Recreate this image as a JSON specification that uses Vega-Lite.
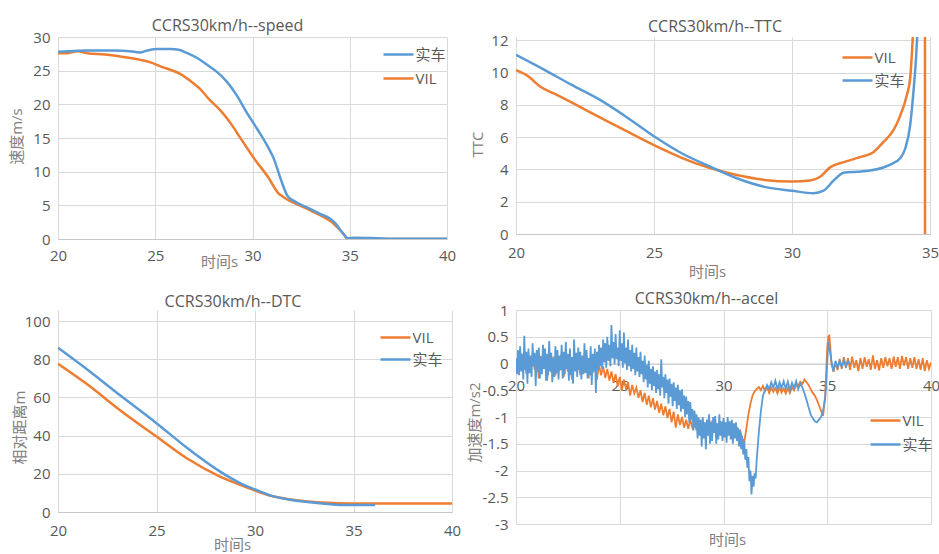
{
 "$schema": "https://vega.github.io/schema/vega-lite/v6.json",
 "padding": {"left": 9, "top": 18, "right": 0, "bottom": 0},
 "background": "white",
 "config": {
  "font": "Open Sans, Noto Sans CJK SC",
  "view": {"stroke": null},
  "axis": {"gridColor": "#d9d9d9", "domainColor": "#c8c8c8", "ticks": false, "labelColor": "#595959", "labelFontSize": 15, "titleColor": "#808080", "titleFontSize": 15, "titleFontWeight": "normal", "labelFlush": false, "labelOverlap": false, "titleBaseline": "middle", "labelExpr": "replace(datum.label, '\u2212', '-')"},
  "axisY": {"domain": false, "labelPadding": 8},
  "title": {"fontSize": 16, "fontWeight": "normal", "color": "#595959", "anchor": "middle", "frame": "group"},
  "legend": {"orient": "none", "title": null, "symbolType": "M-2,0H2", "symbolSize": 225, "symbolStrokeWidth": 2.5, "labelFontSize": 15, "labelColor": "#595959", "labelOffset": 8, "padding": 0}
 },
 "datasets": {
  "speed": [
   {"s":"VIL","t":20,"v":27.6},{"s":"VIL","t":20.5,"v":27.6},{"s":"VIL","t":21.0,"v":27.9},{"s":"VIL","t":21.5,"v":27.6},{"s":"VIL","t":22.4,"v":27.4},{"s":"VIL","t":23.2,"v":27.1},{"s":"VIL","t":24.25,"v":26.6},{"s":"VIL","t":24.8,"v":26.2},{"s":"VIL","t":25.3,"v":25.6},{"s":"VIL","t":25.8,"v":25.1},{"s":"VIL","t":26.3,"v":24.5},{"s":"VIL","t":26.8,"v":23.5},{"s":"VIL","t":27.3,"v":22.3},{"s":"VIL","t":27.85,"v":20.5},{"s":"VIL","t":28.35,"v":19.1},{"s":"VIL","t":28.9,"v":17.1},{"s":"VIL","t":29.4,"v":14.9},{"s":"VIL","t":30.1,"v":11.9},{"s":"VIL","t":30.8,"v":9.2},{"s":"VIL","t":31.3,"v":6.9},{"s":"VIL","t":31.6,"v":6.2},{"s":"VIL","t":32.1,"v":5.4},{"s":"VIL","t":32.8,"v":4.5},{"s":"VIL","t":33.5,"v":3.5},{"s":"VIL","t":34.2,"v":2.2},{"s":"VIL","t":34.7,"v":0.7},{"s":"VIL","t":34.9,"v":0},{"s":"VIL","t":40,"v":0},
   {"s":"实车","t":20,"v":27.8},{"s":"实车","t":20.5,"v":27.9},{"s":"实车","t":21.5,"v":28.0},{"s":"实车","t":22.9,"v":28.0},{"s":"实车","t":23.7,"v":27.9},{"s":"实车","t":24.2,"v":27.7},{"s":"实车","t":24.6,"v":28.0},{"s":"实车","t":25.1,"v":28.2},{"s":"实车","t":25.8,"v":28.2},{"s":"实车","t":26.2,"v":28.1},{"s":"实车","t":26.65,"v":27.6},{"s":"实车","t":27.2,"v":26.8},{"s":"实车","t":27.7,"v":25.8},{"s":"实车","t":28.2,"v":24.75},{"s":"实车","t":28.7,"v":23.3},{"s":"实车","t":29.2,"v":21.3},{"s":"实车","t":29.7,"v":18.8},{"s":"实车","t":30.25,"v":16.3},{"s":"实车","t":30.75,"v":13.9},{"s":"实车","t":31.1,"v":11.9},{"s":"实车","t":31.45,"v":8.9},{"s":"实车","t":31.8,"v":6.4},{"s":"实车","t":32.1,"v":5.7},{"s":"实车","t":32.8,"v":4.7},{"s":"实车","t":33.5,"v":3.7},{"s":"实车","t":34.0,"v":3.0},{"s":"实车","t":34.3,"v":2.2},{"s":"实车","t":34.6,"v":1.0},{"s":"实车","t":34.9,"v":0.1},{"s":"实车","t":35.2,"v":0.2},{"s":"实车","t":36.1,"v":0.15},{"s":"实车","t":36.9,"v":0.05},{"s":"实车","t":40,"v":0.05}
  ],
  "ttc": [
   {"s":"VIL","t":20,"v":10.14},{"s":"VIL","t":20.42,"v":9.79},{"s":"VIL","t":20.9,"v":9.1},{"s":"VIL","t":21.39,"v":8.69},{"s":"VIL","t":22.1,"v":8.07},{"s":"VIL","t":22.95,"v":7.3},{"s":"VIL","t":23.8,"v":6.55},{"s":"VIL","t":25,"v":5.5},{"s":"VIL","t":26,"v":4.72},{"s":"VIL","t":27,"v":4.1},{"s":"VIL","t":28,"v":3.65},{"s":"VIL","t":29,"v":3.35},{"s":"VIL","t":30,"v":3.25},{"s":"VIL","t":30.66,"v":3.32},{"s":"VIL","t":31.02,"v":3.55},{"s":"VIL","t":31.39,"v":4.14},{"s":"VIL","t":31.87,"v":4.45},{"s":"VIL","t":32.47,"v":4.76},{"s":"VIL","t":32.95,"v":5.07},{"s":"VIL","t":33.31,"v":5.69},{"s":"VIL","t":33.67,"v":6.41},{"s":"VIL","t":33.9,"v":7.24},{"s":"VIL","t":34.16,"v":8.59},{"s":"VIL","t":34.28,"v":9.62},{"s":"VIL","t":34.37,"v":12},{"s":"VIL","t":34.45,"v":15},{"s":"VIL","t":34.81,"v":40},{"s":"VIL","t":34.82,"v":0},
   {"s":"实车","t":20,"v":11.1},{"s":"实车","t":21,"v":10.2},{"s":"实车","t":22,"v":9.25},{"s":"实车","t":23,"v":8.35},{"s":"实车","t":24,"v":7.25},{"s":"实车","t":25,"v":6.05},{"s":"实车","t":26,"v":5.0},{"s":"实车","t":27,"v":4.2},{"s":"实车","t":28,"v":3.45},{"s":"实车","t":29,"v":2.92},{"s":"实车","t":30,"v":2.68},{"s":"实车","t":30.78,"v":2.53},{"s":"实车","t":31.14,"v":2.68},{"s":"实车","t":31.5,"v":3.3},{"s":"实车","t":31.87,"v":3.8},{"s":"实车","t":32.35,"v":3.86},{"s":"实车","t":32.83,"v":3.93},{"s":"实车","t":33.31,"v":4.12},{"s":"实车","t":33.67,"v":4.39},{"s":"实车","t":33.9,"v":4.66},{"s":"实车","t":34.1,"v":5.28},{"s":"实车","t":34.28,"v":6.72},{"s":"实车","t":34.4,"v":8.8},{"s":"实车","t":34.5,"v":11.07},{"s":"实车","t":34.56,"v":13}
  ],
  "dtc": [
   {"s":"VIL","t":20,"v":77.6},{"s":"VIL","t":21.5,"v":66.7},{"s":"VIL","t":23.2,"v":52.9},{"s":"VIL","t":25,"v":39.5},{"s":"VIL","t":26.56,"v":28},{"s":"VIL","t":28.25,"v":18.4},{"s":"VIL","t":29.27,"v":14.1},{"s":"VIL","t":30,"v":11.2},{"s":"VIL","t":30.8,"v":8.5},{"s":"VIL","t":31.64,"v":6.8},{"s":"VIL","t":32.66,"v":5.5},{"s":"VIL","t":33.68,"v":4.8},{"s":"VIL","t":34.7,"v":4.5},{"s":"VIL","t":40,"v":4.5},
   {"s":"实车","t":20,"v":86},{"s":"实车","t":21.5,"v":74.5},{"s":"实车","t":23.2,"v":60.7},{"s":"实车","t":25,"v":46.5},{"s":"实车","t":26.56,"v":33.5},{"s":"实车","t":28.25,"v":21.0},{"s":"实车","t":29.27,"v":15.0},{"s":"实车","t":30,"v":11.8},{"s":"实车","t":30.8,"v":8.6},{"s":"实车","t":31.64,"v":6.7},{"s":"实车","t":32.66,"v":5.2},{"s":"实车","t":33.68,"v":4.2},{"s":"实车","t":34.7,"v":3.6},{"s":"实车","t":36.1,"v":3.6}
  ],
  "accel": [
   {"s":"VIL","t":20.0,"v":0.05},{"s":"VIL","t":20.1,"v":-0.18},{"s":"VIL","t":20.2,"v":0.22},{"s":"VIL","t":20.3,"v":-0.12},{"s":"VIL","t":20.4,"v":0.15},{"s":"VIL","t":20.5,"v":-0.2},{"s":"VIL","t":20.6,"v":0.1},{"s":"VIL","t":20.7,"v":-0.15},{"s":"VIL","t":20.8,"v":0.18},{"s":"VIL","t":20.9,"v":-0.12},
   {"s":"VIL","t":21.0,"v":0.12},{"s":"VIL","t":21.1,"v":-0.28},{"s":"VIL","t":21.2,"v":0.14},{"s":"VIL","t":21.3,"v":-0.1},{"s":"VIL","t":21.4,"v":0.16},{"s":"VIL","t":21.5,"v":-0.32},{"s":"VIL","t":21.6,"v":0.1},{"s":"VIL","t":21.7,"v":-0.16},{"s":"VIL","t":21.8,"v":0.13},{"s":"VIL","t":21.9,"v":-0.22},
   {"s":"VIL","t":22.0,"v":0.1},{"s":"VIL","t":22.1,"v":-0.14},{"s":"VIL","t":22.2,"v":0.18},{"s":"VIL","t":22.3,"v":-0.25},{"s":"VIL","t":22.4,"v":0.12},{"s":"VIL","t":22.5,"v":-0.15},{"s":"VIL","t":22.6,"v":0.1},{"s":"VIL","t":22.7,"v":-0.3},{"s":"VIL","t":22.8,"v":0.15},{"s":"VIL","t":22.9,"v":-0.12},
   {"s":"VIL","t":23.0,"v":0.12},{"s":"VIL","t":23.1,"v":-0.22},{"s":"VIL","t":23.2,"v":0.1},{"s":"VIL","t":23.3,"v":-0.16},{"s":"VIL","t":23.4,"v":0.14},{"s":"VIL","t":23.5,"v":-0.28},{"s":"VIL","t":23.6,"v":0.08},{"s":"VIL","t":23.7,"v":-0.18},{"s":"VIL","t":23.8,"v":0.1},{"s":"VIL","t":23.9,"v":-0.3},
   {"s":"VIL","t":24.0,"v":-0.02},{"s":"VIL","t":24.1,"v":-0.22},{"s":"VIL","t":24.2,"v":-0.05},{"s":"VIL","t":24.3,"v":-0.27},{"s":"VIL","t":24.4,"v":-0.1},{"s":"VIL","t":24.5,"v":-0.32},{"s":"VIL","t":24.6,"v":-0.15},{"s":"VIL","t":24.7,"v":-0.36},{"s":"VIL","t":24.8,"v":-0.2},{"s":"VIL","t":24.9,"v":-0.42},
   {"s":"VIL","t":25.0,"v":-0.25},{"s":"VIL","t":25.1,"v":-0.5},{"s":"VIL","t":25.2,"v":-0.3},{"s":"VIL","t":25.3,"v":-0.47},{"s":"VIL","t":25.4,"v":-0.35},{"s":"VIL","t":25.5,"v":-0.6},{"s":"VIL","t":25.6,"v":-0.4},{"s":"VIL","t":25.7,"v":-0.56},{"s":"VIL","t":25.8,"v":-0.45},{"s":"VIL","t":25.9,"v":-0.64},
   {"s":"VIL","t":26.0,"v":-0.5},{"s":"VIL","t":26.1,"v":-0.72},{"s":"VIL","t":26.2,"v":-0.55},{"s":"VIL","t":26.3,"v":-0.77},{"s":"VIL","t":26.4,"v":-0.6},{"s":"VIL","t":26.5,"v":-0.82},{"s":"VIL","t":26.6,"v":-0.65},{"s":"VIL","t":26.7,"v":-0.86},{"s":"VIL","t":26.8,"v":-0.7},{"s":"VIL","t":26.9,"v":-0.92},
   {"s":"VIL","t":27.0,"v":-0.75},{"s":"VIL","t":27.1,"v":-0.97},{"s":"VIL","t":27.2,"v":-0.8},{"s":"VIL","t":27.3,"v":-1.02},{"s":"VIL","t":27.4,"v":-0.85},{"s":"VIL","t":27.5,"v":-1.1},{"s":"VIL","t":27.6,"v":-0.9},{"s":"VIL","t":27.7,"v":-1.2},{"s":"VIL","t":27.8,"v":-0.95},{"s":"VIL","t":27.9,"v":-1.15},
   {"s":"VIL","t":28.0,"v":-1.0},{"s":"VIL","t":28.1,"v":-1.2},{"s":"VIL","t":28.2,"v":-1.05},{"s":"VIL","t":28.3,"v":-1.22},{"s":"VIL","t":28.4,"v":-1.05},{"s":"VIL","t":28.5,"v":-1.2},{"s":"VIL","t":28.6,"v":-1.08},{"s":"VIL","t":28.7,"v":-1.25},{"s":"VIL","t":28.8,"v":-1.1},{"s":"VIL","t":28.9,"v":-1.22},
   {"s":"VIL","t":29.0,"v":-1.08},{"s":"VIL","t":29.1,"v":-1.24},{"s":"VIL","t":29.2,"v":-1.1},{"s":"VIL","t":29.3,"v":-1.25},{"s":"VIL","t":29.4,"v":-1.1},{"s":"VIL","t":29.5,"v":-1.22},{"s":"VIL","t":29.6,"v":-1.08},{"s":"VIL","t":29.7,"v":-1.25},{"s":"VIL","t":29.8,"v":-1.12},{"s":"VIL","t":29.9,"v":-1.22},
   {"s":"VIL","t":30.0,"v":-1.1},{"s":"VIL","t":30.1,"v":-1.25},{"s":"VIL","t":30.2,"v":-1.12},{"s":"VIL","t":30.3,"v":-1.22},{"s":"VIL","t":30.4,"v":-1.1},{"s":"VIL","t":30.5,"v":-1.24},{"s":"VIL","t":30.6,"v":-1.15},{"s":"VIL","t":30.7,"v":-1.28},{"s":"VIL","t":30.8,"v":-1.25},{"s":"VIL","t":30.9,"v":-1.4},
   {"s":"VIL","t":31.0,"v":-1.47},{"s":"VIL","t":31.1,"v":-1.22},{"s":"VIL","t":31.2,"v":-0.95},{"s":"VIL","t":31.3,"v":-0.75},{"s":"VIL","t":31.4,"v":-0.6},{"s":"VIL","t":31.5,"v":-0.52},{"s":"VIL","t":31.6,"v":-0.48},{"s":"VIL","t":31.7,"v":-0.44},{"s":"VIL","t":31.8,"v":-0.5},{"s":"VIL","t":31.9,"v":-0.42},
   {"s":"VIL","t":32.0,"v":-0.52},{"s":"VIL","t":32.1,"v":-0.44},{"s":"VIL","t":32.2,"v":-0.55},{"s":"VIL","t":32.3,"v":-0.45},{"s":"VIL","t":32.4,"v":-0.53},{"s":"VIL","t":32.5,"v":-0.46},{"s":"VIL","t":32.6,"v":-0.56},{"s":"VIL","t":32.7,"v":-0.45},{"s":"VIL","t":32.8,"v":-0.54},{"s":"VIL","t":32.9,"v":-0.47},
   {"s":"VIL","t":33.0,"v":-0.56},{"s":"VIL","t":33.1,"v":-0.46},{"s":"VIL","t":33.2,"v":-0.55},{"s":"VIL","t":33.3,"v":-0.44},{"s":"VIL","t":33.4,"v":-0.5},{"s":"VIL","t":33.5,"v":-0.4},{"s":"VIL","t":33.6,"v":-0.42},{"s":"VIL","t":33.7,"v":-0.34},{"s":"VIL","t":33.8,"v":-0.38},{"s":"VIL","t":33.9,"v":-0.3},
   {"s":"VIL","t":34.0,"v":-0.35},{"s":"VIL","t":34.1,"v":-0.4},{"s":"VIL","t":34.2,"v":-0.48},{"s":"VIL","t":34.3,"v":-0.55},{"s":"VIL","t":34.4,"v":-0.6},{"s":"VIL","t":34.5,"v":-0.68},{"s":"VIL","t":34.6,"v":-0.78},{"s":"VIL","t":34.7,"v":-0.88},{"s":"VIL","t":34.8,"v":-0.98},{"s":"VIL","t":34.9,"v":-0.6},
   {"s":"VIL","t":35.0,"v":0.3},{"s":"VIL","t":35.05,"v":0.5},{"s":"VIL","t":35.1,"v":0.52},{"s":"VIL","t":35.15,"v":0.3},{"s":"VIL","t":35.2,"v":0.0},{"s":"VIL","t":35.3,"v":-0.15},{"s":"VIL","t":35.4,"v":0.02},{"s":"VIL","t":35.5,"v":-0.12},{"s":"VIL","t":35.6,"v":0.08},{"s":"VIL","t":35.7,"v":-0.1},
   {"s":"VIL","t":35.8,"v":0.12},{"s":"VIL","t":35.9,"v":-0.08},{"s":"VIL","t":36.0,"v":0.1},{"s":"VIL","t":36.1,"v":-0.12},{"s":"VIL","t":36.2,"v":0.13},{"s":"VIL","t":36.3,"v":-0.08},{"s":"VIL","t":36.4,"v":0.06},{"s":"VIL","t":36.5,"v":-0.14},{"s":"VIL","t":36.6,"v":0.1},{"s":"VIL","t":36.7,"v":-0.1},
   {"s":"VIL","t":36.8,"v":0.12},{"s":"VIL","t":36.9,"v":-0.06},{"s":"VIL","t":37.0,"v":0.08},{"s":"VIL","t":37.1,"v":-0.12},{"s":"VIL","t":37.2,"v":0.15},{"s":"VIL","t":37.3,"v":-0.1},{"s":"VIL","t":37.4,"v":0.06},{"s":"VIL","t":37.5,"v":-0.13},{"s":"VIL","t":37.6,"v":0.1},{"s":"VIL","t":37.7,"v":-0.08},
   {"s":"VIL","t":37.8,"v":0.12},{"s":"VIL","t":37.9,"v":-0.05},{"s":"VIL","t":38.0,"v":0.1},{"s":"VIL","t":38.1,"v":-0.1},{"s":"VIL","t":38.2,"v":0.13},{"s":"VIL","t":38.3,"v":-0.06},{"s":"VIL","t":38.4,"v":0.12},{"s":"VIL","t":38.5,"v":-0.1},{"s":"VIL","t":38.6,"v":0.14},{"s":"VIL","t":38.7,"v":-0.04},
   {"s":"VIL","t":38.8,"v":0.12},{"s":"VIL","t":38.9,"v":-0.1},{"s":"VIL","t":39.0,"v":0.1},{"s":"VIL","t":39.1,"v":-0.08},{"s":"VIL","t":39.2,"v":0.12},{"s":"VIL","t":39.3,"v":-0.1},{"s":"VIL","t":39.4,"v":0.08},{"s":"VIL","t":39.5,"v":-0.12},{"s":"VIL","t":39.6,"v":0.1},{"s":"VIL","t":39.7,"v":-0.14},
   {"s":"VIL","t":39.8,"v":0.06},{"s":"VIL","t":39.9,"v":-0.1},{"s":"VIL","t":40.0,"v":0.02},
   {"s":"实车","t":20.00,"v":0.10},{"s":"实车","t":20.05,"v":-0.20},{"s":"实车","t":20.10,"v":0.25},{"s":"实车","t":20.15,"v":-0.22},{"s":"实车","t":20.20,"v":0.32},{"s":"实车","t":20.25,"v":-0.15},{"s":"实车","t":20.30,"v":0.18},{"s":"实车","t":20.35,"v":-0.30},{"s":"实车","t":20.40,"v":0.52},{"s":"实车","t":20.45,"v":-0.12},
   {"s":"实车","t":20.50,"v":0.22},{"s":"实车","t":20.55,"v":-0.38},{"s":"实车","t":20.60,"v":0.28},{"s":"实车","t":20.65,"v":-0.18},{"s":"实车","t":20.70,"v":0.15},{"s":"实车","t":20.75,"v":-0.25},{"s":"实车","t":20.80,"v":0.38},{"s":"实车","t":20.85,"v":-0.05},{"s":"实车","t":20.90,"v":0.20},{"s":"实车","t":20.95,"v":-0.42},
   {"s":"实车","t":21.00,"v":0.25},{"s":"实车","t":21.05,"v":-0.15},{"s":"实车","t":21.10,"v":0.30},{"s":"实车","t":21.15,"v":-0.28},{"s":"实车","t":21.20,"v":0.12},{"s":"实车","t":21.25,"v":-0.20},{"s":"实车","t":21.30,"v":0.35},{"s":"实车","t":21.35,"v":-0.10},{"s":"实车","t":21.40,"v":0.28},{"s":"实车","t":21.45,"v":-0.32},
   {"s":"实车","t":21.50,"v":0.18},{"s":"实车","t":21.55,"v":-0.22},{"s":"实车","t":21.60,"v":0.42},{"s":"实车","t":21.65,"v":-0.15},{"s":"实车","t":21.70,"v":0.20},{"s":"实车","t":21.75,"v":-0.35},{"s":"实车","t":21.80,"v":0.10},{"s":"实车","t":21.85,"v":-0.25},{"s":"实车","t":21.90,"v":0.32},{"s":"实车","t":21.95,"v":-0.18},
   {"s":"实车","t":22.00,"v":0.25},{"s":"实车","t":22.05,"v":-0.30},{"s":"实车","t":22.10,"v":0.15},{"s":"实车","t":22.15,"v":-0.12},{"s":"实车","t":22.20,"v":0.35},{"s":"实车","t":22.25,"v":-0.28},{"s":"实车","t":22.30,"v":0.22},{"s":"实车","t":22.35,"v":-0.20},{"s":"实车","t":22.40,"v":0.40},{"s":"实车","t":22.45,"v":-0.10},
   {"s":"实车","t":22.50,"v":0.18},{"s":"实车","t":22.55,"v":-0.32},{"s":"实车","t":22.60,"v":0.28},{"s":"实车","t":22.65,"v":-0.22},{"s":"实车","t":22.70,"v":0.12},{"s":"实车","t":22.75,"v":-0.38},{"s":"实车","t":22.80,"v":0.45},{"s":"实车","t":22.85,"v":-0.15},{"s":"实车","t":22.90,"v":0.20},{"s":"实车","t":22.95,"v":-0.25},
   {"s":"实车","t":23.00,"v":0.30},{"s":"实车","t":23.05,"v":-0.12},{"s":"实车","t":23.10,"v":0.22},{"s":"实车","t":23.15,"v":-0.30},{"s":"实车","t":23.20,"v":0.15},{"s":"实车","t":23.25,"v":-0.20},{"s":"实车","t":23.30,"v":0.38},{"s":"实车","t":23.35,"v":-0.18},{"s":"实车","t":23.40,"v":0.25},{"s":"实车","t":23.45,"v":-0.28},
   {"s":"实车","t":23.50,"v":0.10},{"s":"实车","t":23.55,"v":-0.22},{"s":"实车","t":23.60,"v":0.32},{"s":"实车","t":23.65,"v":-0.40},{"s":"实车","t":23.70,"v":0.18},{"s":"实车","t":23.75,"v":-0.15},{"s":"实车","t":23.80,"v":0.28},{"s":"实车","t":23.85,"v":-0.55},{"s":"实车","t":23.90,"v":0.22},{"s":"实车","t":23.95,"v":-0.12},
   {"s":"实车","t":24.00,"v":0.35},{"s":"实车","t":24.05,"v":-0.05},{"s":"实车","t":24.10,"v":0.30},{"s":"实车","t":24.15,"v":-0.10},{"s":"实车","t":24.20,"v":0.45},{"s":"实车","t":24.25,"v":0.02},{"s":"实车","t":24.30,"v":0.38},{"s":"实车","t":24.35,"v":-0.08},{"s":"实车","t":24.40,"v":0.50},{"s":"实车","t":24.45,"v":0.05},
   {"s":"实车","t":24.50,"v":0.35},{"s":"实车","t":24.55,"v":-0.05},{"s":"实车","t":24.60,"v":0.72},{"s":"实车","t":24.65,"v":0.10},{"s":"实车","t":24.70,"v":0.40},{"s":"实车","t":24.75,"v":-0.02},{"s":"实车","t":24.80,"v":0.55},{"s":"实车","t":24.85,"v":0.08},{"s":"实车","t":24.90,"v":0.30},{"s":"实车","t":24.95,"v":-0.05},
   {"s":"实车","t":25.00,"v":0.62},{"s":"实车","t":25.05,"v":0.05},{"s":"实车","t":25.10,"v":0.38},{"s":"实车","t":25.15,"v":-0.08},{"s":"实车","t":25.20,"v":0.58},{"s":"实车","t":25.25,"v":0.00},{"s":"实车","t":25.30,"v":0.30},{"s":"实车","t":25.35,"v":-0.12},{"s":"实车","t":25.40,"v":0.45},{"s":"实车","t":25.45,"v":-0.05},
   {"s":"实车","t":25.50,"v":0.25},{"s":"实车","t":25.55,"v":-0.15},{"s":"实车","t":25.60,"v":0.35},{"s":"实车","t":25.65,"v":-0.10},{"s":"实车","t":25.70,"v":0.20},{"s":"实车","t":25.75,"v":-0.22},{"s":"实车","t":25.80,"v":0.30},{"s":"实车","t":25.85,"v":-0.15},{"s":"实车","t":25.90,"v":0.12},{"s":"实车","t":25.95,"v":-0.25},
   {"s":"实车","t":26.00,"v":0.22},{"s":"实车","t":26.05,"v":-0.20},{"s":"实车","t":26.10,"v":0.05},{"s":"实车","t":26.15,"v":-0.35},{"s":"实车","t":26.20,"v":0.15},{"s":"实车","t":26.25,"v":-0.30},{"s":"实车","t":26.30,"v":-0.02},{"s":"实车","t":26.35,"v":-0.45},{"s":"实车","t":26.40,"v":0.05},{"s":"实车","t":26.45,"v":-0.38},
   {"s":"实车","t":26.50,"v":-0.10},{"s":"实车","t":26.55,"v":-0.50},{"s":"实车","t":26.60,"v":-0.05},{"s":"实车","t":26.65,"v":-0.42},{"s":"实车","t":26.70,"v":-0.15},{"s":"实车","t":26.75,"v":-0.55},{"s":"实车","t":26.80,"v":-0.12},{"s":"实车","t":26.85,"v":-0.48},{"s":"实车","t":26.90,"v":-0.20},{"s":"实车","t":26.95,"v":-0.60},
   {"s":"实车","t":27.00,"v":0.08},{"s":"实车","t":27.05,"v":-0.45},{"s":"实车","t":27.10,"v":-0.25},{"s":"实车","t":27.15,"v":-0.65},{"s":"实车","t":27.20,"v":-0.20},{"s":"实车","t":27.25,"v":-0.55},{"s":"实车","t":27.30,"v":-0.30},{"s":"实车","t":27.35,"v":-0.75},{"s":"实车","t":27.40,"v":-0.28},{"s":"实车","t":27.45,"v":-0.62},
   {"s":"实车","t":27.50,"v":-0.38},{"s":"实车","t":27.55,"v":-0.80},{"s":"实车","t":27.60,"v":-0.35},{"s":"实车","t":27.65,"v":-0.70},{"s":"实车","t":27.70,"v":-0.45},{"s":"实车","t":27.75,"v":-0.85},{"s":"实车","t":27.80,"v":-0.40},{"s":"实车","t":27.85,"v":-0.78},{"s":"实车","t":27.90,"v":-0.50},{"s":"实车","t":27.95,"v":-0.90},
   {"s":"实车","t":28.00,"v":-0.48},{"s":"实车","t":28.05,"v":-0.85},{"s":"实车","t":28.10,"v":-0.60},{"s":"实车","t":28.15,"v":-1.00},{"s":"实车","t":28.20,"v":-0.62},{"s":"实车","t":28.25,"v":-0.95},{"s":"实车","t":28.30,"v":-0.70},{"s":"实车","t":28.35,"v":-1.10},{"s":"实车","t":28.40,"v":-0.72},{"s":"实车","t":28.45,"v":-1.05},
   {"s":"实车","t":28.50,"v":-0.85},{"s":"实车","t":28.55,"v":-1.25},{"s":"实车","t":28.60,"v":-0.88},{"s":"实车","t":28.65,"v":-1.20},{"s":"实车","t":28.70,"v":-0.95},{"s":"实车","t":28.75,"v":-1.40},{"s":"实车","t":28.80,"v":-1.00},{"s":"实车","t":28.85,"v":-1.35},{"s":"实车","t":28.90,"v":-1.05},{"s":"实车","t":28.95,"v":-1.55},
   {"s":"实车","t":29.00,"v":-1.00},{"s":"实车","t":29.05,"v":-1.40},{"s":"实车","t":29.10,"v":-1.10},{"s":"实车","t":29.15,"v":-1.60},{"s":"实车","t":29.20,"v":-1.05},{"s":"实车","t":29.25,"v":-1.35},{"s":"实车","t":29.30,"v":-0.95},{"s":"实车","t":29.35,"v":-1.50},{"s":"实车","t":29.40,"v":-1.10},{"s":"实车","t":29.45,"v":-1.45},
   {"s":"实车","t":29.50,"v":-1.00},{"s":"实车","t":29.55,"v":-1.30},{"s":"实车","t":29.60,"v":-0.98},{"s":"实车","t":29.65,"v":-1.50},{"s":"实车","t":29.70,"v":-1.12},{"s":"实车","t":29.75,"v":-1.42},{"s":"实车","t":29.80,"v":-0.95},{"s":"实车","t":29.85,"v":-1.35},{"s":"实车","t":29.90,"v":-1.08},{"s":"实车","t":29.95,"v":-1.45},
   {"s":"实车","t":30.00,"v":-1.02},{"s":"实车","t":30.05,"v":-1.38},{"s":"实车","t":30.10,"v":-1.10},{"s":"实车","t":30.15,"v":-1.48},{"s":"实车","t":30.20,"v":-1.00},{"s":"实车","t":30.25,"v":-1.35},{"s":"实车","t":30.30,"v":-1.08},{"s":"实车","t":30.35,"v":-1.42},{"s":"实车","t":30.40,"v":-1.05},{"s":"实车","t":30.45,"v":-1.50},
   {"s":"实车","t":30.50,"v":-1.12},{"s":"实车","t":30.55,"v":-1.40},{"s":"实车","t":30.60,"v":-1.10},{"s":"实车","t":30.65,"v":-1.45},{"s":"实车","t":30.70,"v":-1.20},{"s":"实车","t":30.75,"v":-1.55},{"s":"实车","t":30.80,"v":-1.25},{"s":"实车","t":30.85,"v":-1.60},{"s":"实车","t":30.90,"v":-1.35},{"s":"实车","t":30.95,"v":-1.70},
   {"s":"实车","t":31.0,"v":-1.45},{"s":"实车","t":31.05,"v":-1.8},{"s":"实车","t":31.1,"v":-1.6},{"s":"实车","t":31.15,"v":-1.95},{"s":"实车","t":31.2,"v":-1.75},{"s":"实车","t":31.25,"v":-2.2},{"s":"实车","t":31.3,"v":-2.0},{"s":"实车","t":31.35,"v":-2.45},{"s":"实车","t":31.4,"v":-2.1},{"s":"实车","t":31.45,"v":-2.3},{"s":"实车","t":31.5,"v":-2.05},{"s":"实车","t":31.55,"v":-2.15},
   {"s":"实车","t":31.6,"v":-1.8},{"s":"实车","t":31.7,"v":-1.3},{"s":"实车","t":31.8,"v":-0.9},{"s":"实车","t":31.9,"v":-0.6},{"s":"实车","t":32.0,"v":-0.5},{"s":"实车","t":32.1,"v":-0.4},{"s":"实车","t":32.2,"v":-0.48},{"s":"实车","t":32.3,"v":-0.35},{"s":"实车","t":32.4,"v":-0.45},{"s":"实车","t":32.5,"v":-0.32},
   {"s":"实车","t":32.6,"v":-0.48},{"s":"实车","t":32.7,"v":-0.35},{"s":"实车","t":32.8,"v":-0.46},{"s":"实车","t":32.9,"v":-0.33},{"s":"实车","t":33.0,"v":-0.47},{"s":"实车","t":33.1,"v":-0.34},{"s":"实车","t":33.2,"v":-0.5},{"s":"实车","t":33.3,"v":-0.36},{"s":"实车","t":33.4,"v":-0.46},{"s":"实车","t":33.5,"v":-0.33},
   {"s":"实车","t":33.6,"v":-0.48},{"s":"实车","t":33.7,"v":-0.37},{"s":"实车","t":33.8,"v":-0.45},{"s":"实车","t":33.9,"v":-0.55},{"s":"实车","t":34.0,"v":-0.68},{"s":"实车","t":34.1,"v":-0.82},{"s":"实车","t":34.2,"v":-0.95},{"s":"实车","t":34.3,"v":-1.02},{"s":"实车","t":34.4,"v":-1.08},{"s":"实车","t":34.5,"v":-1.1},
   {"s":"实车","t":34.6,"v":-1.05},{"s":"实车","t":34.7,"v":-1.0},{"s":"实车","t":34.8,"v":-0.88},{"s":"实车","t":34.9,"v":-0.65},{"s":"实车","t":35.0,"v":0.0},{"s":"实车","t":35.05,"v":0.4},{"s":"实车","t":35.1,"v":0.3},{"s":"实车","t":35.2,"v":0.05},{"s":"实车","t":35.3,"v":-0.15},{"s":"实车","t":35.4,"v":0.05},
   {"s":"实车","t":35.5,"v":-0.08},{"s":"实车","t":35.6,"v":0.05},{"s":"实车","t":35.7,"v":-0.06},{"s":"实车","t":35.8,"v":0.06},{"s":"实车","t":35.9,"v":-0.05},{"s":"实车","t":36.0,"v":0.04},{"s":"实车","t":36.1,"v":-0.02}
  ]
 },
 "columns": 2,
 "bounds": "flush",
 "spacing": {"row": 71, "column": 64},
 "resolve": {"scale": {"color": "independent"}, "legend": {"color": "independent"}},
 "concat": [
  {
   "width": 389, "height": 202,
   "title": {"text": "CCRS30km/h--speed", "dx": -25, "offset": -4},
   "data": {"name": "speed"},
   "mark": {"type": "line", "interpolate": "monotone", "clip": true, "strokeWidth": 2.5},
   "encoding": {
    "x": {"field": "t", "type": "quantitative", "scale": {"domain": [20, 40], "nice": false}, "axis": {"values": [20, 25, 30, 35, 40], "title": "时间s", "titleX": 161, "titleY": 22, "labelPadding": 9}},
    "y": {"field": "v", "type": "quantitative", "scale": {"domain": [0, 30], "nice": false}, "axis": {"values": [0, 5, 10, 15, 20, 25, 30], "title": "速度m/s", "titleX": -42, "titleY": 99}},
    "color": {"field": "s", "type": "nominal", "scale": {"domain": ["实车", "VIL"], "range": ["#5B9BD5", "#ED7D31"]}, "legend": {"legendX": 331.5, "legendY": 8.5, "rowPadding": 7}}
   }
  },
  {
   "width": 414, "height": 197,
   "title": {"text": "CCRS30km/h--TTC", "dx": -8, "offset": -2},
   "data": {"name": "ttc"},
   "mark": {"type": "line", "interpolate": "monotone", "clip": true, "strokeWidth": 2.5},
   "encoding": {
    "x": {"field": "t", "type": "quantitative", "scale": {"domain": [20, 35], "nice": false}, "axis": {"values": [20, 25, 30, 35], "title": "时间s", "titleX": 191, "titleY": 37, "labelPadding": 11}},
    "y": {"field": "v", "type": "quantitative", "scale": {"domain": [0, 12.2], "nice": false}, "axis": {"values": [0, 2, 4, 6, 8, 10, 12], "title": "TTC", "titleX": -39, "titleY": 107}},
    "color": {"field": "s", "type": "nominal", "scale": {"domain": ["VIL", "实车"], "range": ["#ED7D31", "#5B9BD5"]}, "legend": {"legendX": 332.5, "legendY": 11.5, "rowPadding": 6}}
   }
  },
  {
   "width": 394, "height": 202,
   "title": {"text": "CCRS30km/h--DTC", "dx": -22, "offset": 0},
   "data": {"name": "dtc"},
   "mark": {"type": "line", "interpolate": "monotone", "clip": true, "strokeWidth": 2.5},
   "encoding": {
    "x": {"field": "t", "type": "quantitative", "scale": {"domain": [20, 40], "nice": false}, "axis": {"values": [20, 25, 30, 35, 40], "title": "时间s", "titleX": 174, "titleY": 32, "labelPadding": 11}},
    "y": {"field": "v", "type": "quantitative", "scale": {"domain": [0, 105.76], "nice": false}, "axis": {"values": [0, 20, 40, 60, 80, 100], "format": "d", "title": "相对距离m", "titleX": -39, "titleY": 117}},
    "color": {"field": "s", "type": "nominal", "scale": {"domain": ["VIL", "实车"], "range": ["#ED7D31", "#5B9BD5"]}, "legend": {"legendX": 328.5, "legendY": 18.5, "rowPadding": 5}}
   }
  },
  {
   "width": 415, "height": 214,
   "title": {"text": "CCRS30km/h--accel", "dx": -17, "offset": -4},
   "data": {"name": "accel"},
   "encoding": {
    "x": {"field": "t", "type": "quantitative", "scale": {"domain": [20, 40], "nice": false}, "axis": {"values": [20, 25, 30, 35, 40], "title": "时间s", "offset": -160.5, "titleX": 211, "titleY": 175.5, "labelPadding": 14.5}},
    "y": {"field": "v", "type": "quantitative", "scale": {"domain": [-3, 1], "nice": false}, "axis": {"values": [-3, -2.5, -2, -1.5, -1, -0.5, 0, 0.5, 1], "format": "~g", "title": "加速度m/s2", "titleX": -42, "titleY": 112}},
    "color": {"field": "s", "type": "nominal", "scale": {"domain": ["VIL", "实车"], "range": ["#ED7D31", "#5B9BD5"]}, "legend": {"legendX": 360.5, "legendY": 101.5, "rowPadding": 7}}
   },
   "layer": [
    {"transform": [{"filter": "datum.s === 'VIL'"}], "mark": {"type": "line", "strokeWidth": 1.8, "clip": true}},
    {"transform": [{"filter": "datum.s === '实车'"}], "mark": {"type": "line", "strokeWidth": 1.8, "clip": true}}
   ]
  }
 ]
}
